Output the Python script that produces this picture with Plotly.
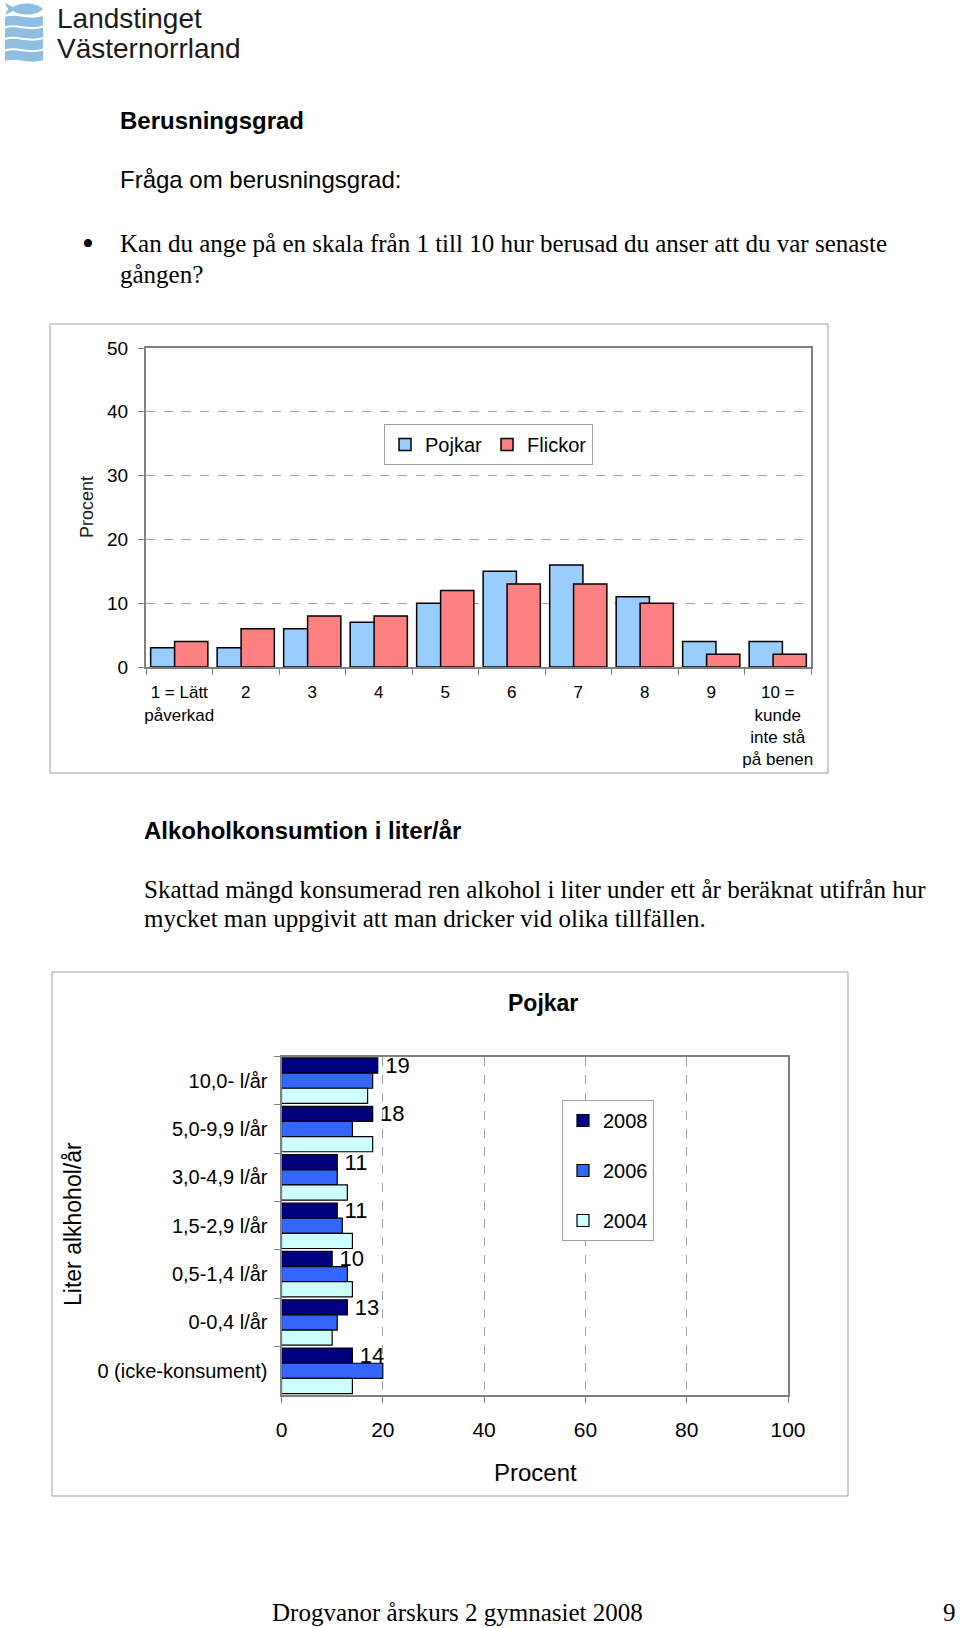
import plotly.graph_objects as go

# Data - Berusningsgrad
skala = ["1 = Lätt<br>påverkad", "2", "3", "4", "5", "6", "7", "8", "9",
         "10 =<br>kunde<br>inte stå<br>på benen"]
pojkar = [3, 3, 6, 7, 10, 15, 16, 11, 4, 4]
flickor = [4, 6, 8, 8, 12, 13, 13, 10, 2, 2]

# Data - Alkoholkonsumtion, pojkar
liter_kat = ["10,0- l/år", "5,0-9,9 l/år", "3,0-4,9 l/år", "1,5-2,9 l/år",
             "0,5-1,4 l/år", "0-0,4 l/år", "0 (icke-konsument)"]
ar_2008 = [19, 18, 11, 11, 10, 13, 14]
ar_2006 = [18, 14, 11, 12, 13, 11, 20]
ar_2004 = [17, 18, 13, 14, 14, 10, 14]

W, H = 960, 1628
SANS = "Liberation Sans, Arial, sans-serif"
SERIF = "Liberation Serif, Times New Roman, serif"


def px(x):
    return x / W


def py(y):
    return 1 - y / H


fig = go.Figure()

# Diagram 1: berusningsgrad (överlappande staplar)
fig.add_trace(go.Bar(
    x=skala, y=pojkar, name="Pojkar", xaxis="x", yaxis="y",
    width=0.5, offset=-0.43,
    marker=dict(color="#99CCFF", line=dict(color="black", width=1.5)),
    legend="legend"
))
fig.add_trace(go.Bar(
    x=skala, y=flickor, name="Flickor", xaxis="x", yaxis="y",
    width=0.5, offset=-0.07,
    marker=dict(color="#FF8080", line=dict(color="black", width=1.5)),
    legend="legend"
))

# Diagram 2: liter alkohol per år
fig.add_trace(go.Bar(
    y=liter_kat, x=ar_2008, name="2008", orientation="h", xaxis="x2", yaxis="y2",
    marker=dict(color="#000080", line=dict(color="black", width=1.2)),
    text=["\u2009" + str(v) for v in ar_2008], textposition="outside",
    constraintext="none",
    textfont=dict(family=SANS, size=22, color="black"), cliponaxis=False,
    legend="legend2", legendgroup="a"
))
fig.add_trace(go.Bar(
    y=liter_kat, x=ar_2006, name="2006", orientation="h", xaxis="x2", yaxis="y2",
    marker=dict(color="#3366FF", line=dict(color="black", width=1.2)),
    legend="legend2", legendgroup="b"
))
fig.add_trace(go.Bar(
    y=liter_kat, x=ar_2004, name="2004", orientation="h", xaxis="x2", yaxis="y2",
    marker=dict(color="#CCFFFF", line=dict(color="black", width=1.2)),
    legend="legend2", legendgroup="c"
))

frame = "#808080"
grid = "#A0A0A0"

fig.update_layout(
    width=W, height=H,
    margin=dict(l=0, r=0, t=0, b=0, pad=0, autoexpand=False),
    paper_bgcolor="white", plot_bgcolor="white",
    font=dict(family=SANS, color="black"),
    barmode="group", bargap=0.06,
    showlegend=True,
    xaxis=dict(
        domain=[px(146), px(811)], anchor="y", type="category", automargin=False,
        range=[-0.5, 9.5], tickson="boundaries", ticks="outside", ticklen=6,
        tickcolor=frame, showline=True, linecolor=frame, linewidth=2, mirror=True,
        showgrid=False, tickfont=dict(size=17), tickangle=0, ticklabelstandoff=9
    ),
    yaxis=dict(
        domain=[py(667), py(348)], anchor="x", range=[0, 50], dtick=10,
        automargin=False,
        ticks="outside", ticklen=6, tickcolor=frame, showline=True,
        linecolor=frame, linewidth=2, mirror=True, zeroline=False,
        showgrid=True, gridcolor=grid, griddash="dash", gridwidth=1,
        tickfont=dict(size=19), ticklabelstandoff=6
    ),
    xaxis2=dict(
        domain=[px(281.5), px(788)], anchor="y2", range=[0, 100], dtick=20,
        automargin=False,
        ticks="outside", ticklen=6, tickcolor=frame, showline=True,
        linecolor=frame, linewidth=2, mirror=True, zeroline=False,
        showgrid=True, gridcolor=grid, griddash="dash", gridwidth=1,
        tickfont=dict(size=21), ticklabelstandoff=9
    ),
    yaxis2=dict(
        domain=[py(1395), py(1056.5)], anchor="x2", type="category",
        automargin=False,
        autorange="reversed", tickson="boundaries", ticks="outside", ticklen=6,
        tickcolor=frame, showline=True, linecolor=frame, linewidth=2, mirror=True,
        showgrid=False, tickfont=dict(size=20), ticklabelstandoff=8
    ),
    legend=dict(
        x=px(384), y=py(424), xanchor="left", yanchor="top", orientation="h",
        bgcolor="white", bordercolor=grid, borderwidth=1,
        font=dict(size=20), itemwidth=30
    ),
    legend2=dict(
        x=px(562), y=py(1100), xanchor="left", yanchor="top", orientation="v",
        bgcolor="white", bordercolor=grid, borderwidth=1,
        font=dict(size=20), traceorder="grouped", tracegroupgap=21
    ),
)

# Ramar runt diagrammen
shapes = [
    dict(type="rect", xref="paper", yref="paper", x0=px(50), x1=px(828),
         y0=py(773), y1=py(324), line=dict(color=grid, width=1)),
    dict(type="rect", xref="paper", yref="paper", x0=px(52), x1=px(848),
         y0=py(1496), y1=py(972), line=dict(color=grid, width=1)),
]

# Logotyp: fisk och vågor
logo_blue = "#8FBEE0"
fish = ("M {},{} C {},{} {},{} {},{} L {},{} L {},{} L {},{} L {},{} "
        "C {},{} {},{} {},{} Z").format(
    px(43), py(9), px(36), py(2), px(20), py(2), px(13), py(7),
    px(5), py(3), px(8), py(9), px(5), py(15), px(13), py(11),
    px(20), py(16), px(36), py(16), px(43), py(9))
shapes.append(dict(type="path", xref="paper", yref="paper", path=fish,
                   fillcolor=logo_blue, line=dict(width=0)))
for top in [17, 28.5, 40, 51.5]:
    bot = top + 9.5
    wave = ("M {},{} C {},{} {},{} {},{} L {},{} C {},{} {},{} {},{} Z").format(
        px(5), py(top), px(17), py(top - 4), px(28), py(top + 4), px(43), py(top - 1),
        px(43), py(bot - 1), px(28), py(bot + 4), px(17), py(bot - 4), px(5), py(bot))
    shapes.append(dict(type="path", xref="paper", yref="paper", path=wave,
                       fillcolor=logo_blue, line=dict(width=0)))
fig.update_layout(shapes=shapes)


def text(x, y, s, size, family=SANS, bold=False, anchor="left", angle=0, color="black"):
    if bold:
        s = "<b>" + s + "</b>"
    fig.add_annotation(x=px(x), y=py(y), xref="paper", yref="paper", text=s,
                       showarrow=False, xanchor=anchor, yanchor="middle",
                       textangle=angle, font=dict(family=family, size=size, color=color))


text(55, 19, "Landstinget", 28, color="#1b1b1b")
text(55, 48, "Västernorrland", 28, color="#1b1b1b")
text(118, 120, "Berusningsgrad", 24, bold=True)
text(118, 179, "Fråga om berusningsgrad:", 24)
text(80, 243, "•", 34, family=SERIF)
text(118, 244, "Kan du ange på en skala från 1 till 10 hur berusad du anser att du var senaste", 25, family=SERIF)
text(118, 275, "gången?", 25, family=SERIF)
text(87, 507, "Procent", 18, anchor="center", angle=-90, color="#222222")
text(142, 830, "Alkoholkonsumtion i liter/år", 24, bold=True)
text(142, 889, "Skattad mängd konsumerad ren alkohol i liter under ett år beräknat utifrån hur", 25, family=SERIF)
text(142, 918, "mycket man uppgivit att man dricker vid olika tillfällen.", 25, family=SERIF)
text(543, 1003, "Pojkar", 23, bold=True, anchor="center")
text(73, 1224, "Liter alkhohol/år", 23, anchor="center", angle=-90)
text(535, 1472, "Procent", 24, anchor="center")
text(270, 1612, "Drogvanor årskurs 2 gymnasiet 2008", 25, family=SERIF)
text(958, 1612, "9", 25, family=SERIF, anchor="right")

# ta bort sidans standardmarginal så att figuren börjar i hörnet
fig.write_html("out.html", config={"displayModeBar": False},
               post_script="document.body.style.margin='0';")
